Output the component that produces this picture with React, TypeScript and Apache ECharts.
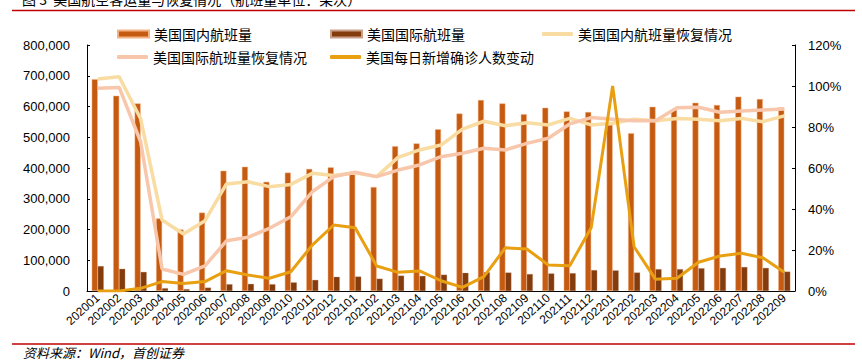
import React, { useEffect, useRef } from "react";
import * as echarts from "echarts";

const categories = [
  "202001", "202002", "202003", "202004", "202005", "202006", "202007", "202008", "202009", "202010", "202011", "202012",
  "202101", "202102", "202103", "202104", "202105", "202106", "202107", "202108", "202109", "202110", "202111", "202112",
  "202201", "202202", "202203", "202204", "202205", "202206", "202207", "202208", "202209",
];

const domesticFlights = [
  689000, 635000, 610000, 236000, 200000, 255000, 391000, 404000, 355000, 385000, 397000, 402000,
  380000, 338000, 471000, 480000, 526000, 577000, 621000, 610000, 575000, 596000, 584000, 582000,
  540000, 513000, 599000, 589000, 612000, 605000, 632000, 624000, 597000,
];

const intlFlights = [
  81000, 72000, 62000, 9000, 6000, 11000, 22000, 23000, 22000, 28000, 36000, 46000,
  47000, 40000, 50000, 49000, 53000, 59000, 61000, 60000, 55000, 57000, 58000, 68000,
  67000, 60000, 71000, 71000, 74000, 75000, 78000, 75000, 63000,
];

const domesticRecovery = [
  103.4, 104.5, 84, 34.6, 27.8, 34.3, 52.2, 53.3, 50.9, 52, 57.4, 56.3,
  57.7, 55.8, 65.2, 68.8, 71.2, 79, 82.8, 80.6, 82.1, 81, 84.2, 81,
  81.8, 83.8, 83.1, 84.2, 83.8, 83, 84.2, 82.6, 85.4,
];

const intlRecovery = [
  98.9, 99.3, 72.8, 10.7, 8.1, 12.2, 24.5, 26.2, 30.6, 36.2, 48.4, 55.8,
  57.9, 55.8, 59, 61.5, 65.5, 67.2, 69.6, 68.8, 72, 74.5, 81.5, 84.6,
  83.8, 83, 83, 89.4, 89.6, 87.2, 87.8, 88.3, 88.8,
];

const dailyCases = [
  0, 0, 1.3, 4.6, 3.7, 4.6, 9.9, 7.8, 6.2, 9.4, 22.4, 32.2,
  30.9, 12.2, 9.1, 9.8, 5, 1.8, 7, 21.1, 20.5, 12.7, 12.3, 30.9,
  100, 21.6, 5.7, 6.2, 14, 17.1, 18.4, 16.2, 9.1,
];

const seriesNames = [
  "美国国内航班量",
  "美国国际航班量",
  "美国国内航班量恢复情况",
  "美国国际航班量恢复情况",
  "美国每日新增确诊人数变动",
];

const titleText = "图 3  美国航空客运量与恢复情况（航班量单位：架次）";
const sourceText = "资料来源：Wind，首创证券";

const CJK = "'Noto Sans CJK SC', sans-serif";
const NUM = "'Liberation Sans', Arial, sans-serif";

export default function App() {
  const ref = useRef<HTMLDivElement>(null);

  useEffect(() => {
    if (!ref.current) return;
    const chart = echarts.init(ref.current, undefined, { renderer: "svg" });

    const legendText = { fontFamily: CJK, fontSize: 14, color: "#000" };
    const mkLegend = (name: string, left: number, top: number, isBar: boolean) => ({
      data: [name],
      left,
      top,
      itemWidth: 31,
      itemHeight: isBar ? 7 : 4,
      itemGap: 5,
      icon: isBar ? "rect" : "roundRect",
      textStyle: legendText,
      selectedMode: false,
      padding: 0,
    });

    chart.setOption({
      animation: false,
      backgroundColor: "#fff",
      legend: [
        mkLegend(seriesNames[0], 117, 27, true),
        mkLegend(seriesNames[1], 330, 27, true),
        mkLegend(seriesNames[2], 542, 27, false),
        mkLegend(seriesNames[3], 117, 50, false),
        mkLegend(seriesNames[4], 330, 50, false),
      ],
      grid: { left: 87, right: 67, top: 45, bottom: 73 },
      xAxis: {
        type: "category",
        data: categories,
        axisLine: { lineStyle: { color: "#000", width: 1 } },
        axisTick: { inside: true, length: 3, lineStyle: { color: "#000" } },
        axisLabel: {
          rotate: 42,
          fontSize: 12,
          fontFamily: NUM,
          color: "#000",
          margin: 5,
          interval: 0,
        },
      },
      yAxis: [
        {
          type: "value",
          min: 0,
          max: 800000,
          interval: 100000,
          splitLine: { show: false },
          axisLine: { show: true, lineStyle: { color: "#000" } },
          axisTick: { show: true, inside: true, length: 3, lineStyle: { color: "#000" } },
          axisLabel: {
            fontSize: 13,
            fontFamily: NUM,
            color: "#000",
            margin: 17,
            formatter: (v: number) => v.toLocaleString("en-US"),
          },
        },
        {
          type: "value",
          min: 0,
          max: 120,
          interval: 20,
          position: "right",
          splitLine: { show: false },
          axisLine: { show: true, lineStyle: { color: "#000" } },
          axisTick: { show: true, inside: true, length: 3, lineStyle: { color: "#000" } },
          axisLabel: {
            fontSize: 13,
            fontFamily: NUM,
            color: "#000",
            margin: 13,
            formatter: (v: number) => v + "%",
          },
        },
      ],
      series: [
        {
          name: seriesNames[0],
          type: "bar",
          yAxisIndex: 0,
          data: domesticFlights,
          barWidth: 6,
          barGap: "0%",
          itemStyle: { color: "#C55A11", borderColor: "#F4B183", borderWidth: 0.5 },
        },
        {
          name: seriesNames[1],
          type: "bar",
          yAxisIndex: 0,
          data: intlFlights,
          barWidth: 6,
          barGap: "0%",
          itemStyle: { color: "#843C0C", borderColor: "#C9A08A", borderWidth: 0.3 },
        },
        {
          name: seriesNames[2],
          type: "line",
          yAxisIndex: 1,
          data: domesticRecovery,
          symbol: "none",
          lineStyle: { color: "#F9DCA2", width: 3.5 },
          itemStyle: { color: "#F9DCA2" },
        },
        {
          name: seriesNames[3],
          type: "line",
          yAxisIndex: 1,
          data: intlRecovery,
          symbol: "none",
          lineStyle: { color: "#F8C7AB", width: 3.5 },
          itemStyle: { color: "#F8C7AB" },
        },
        {
          name: seriesNames[4],
          type: "line",
          yAxisIndex: 1,
          data: dailyCases,
          symbol: "none",
          lineStyle: { color: "#E8A012", width: 3 },
          itemStyle: { color: "#E8A012" },
        },
      ],
      graphic: [
        {
          type: "text",
          left: 22,
          top: -8,
          style: { text: titleText, font: `14px ${CJK}`, fill: "#000" },
        },
        {
          type: "line",
          shape: { x1: 12, y1: 10.5, x2: 855, y2: 10.5 },
          style: { stroke: "#C00000", lineWidth: 1.5 },
        },
        {
          type: "line",
          shape: { x1: 12, y1: 344, x2: 855, y2: 344 },
          style: { stroke: "#C00000", lineWidth: 1.5 },
        },
        {
          type: "text",
          left: 23,
          top: 346,
          style: { text: sourceText, font: `italic 13px ${CJK}`, fill: "#000" },
        },
      ],
    });

    return () => chart.dispose();
  }, []);

  return (
    <div
      ref={ref}
      style={{ position: "absolute", left: 0, top: 0, width: 862, height: 364, background: "#fff" }}
    />
  );
}
